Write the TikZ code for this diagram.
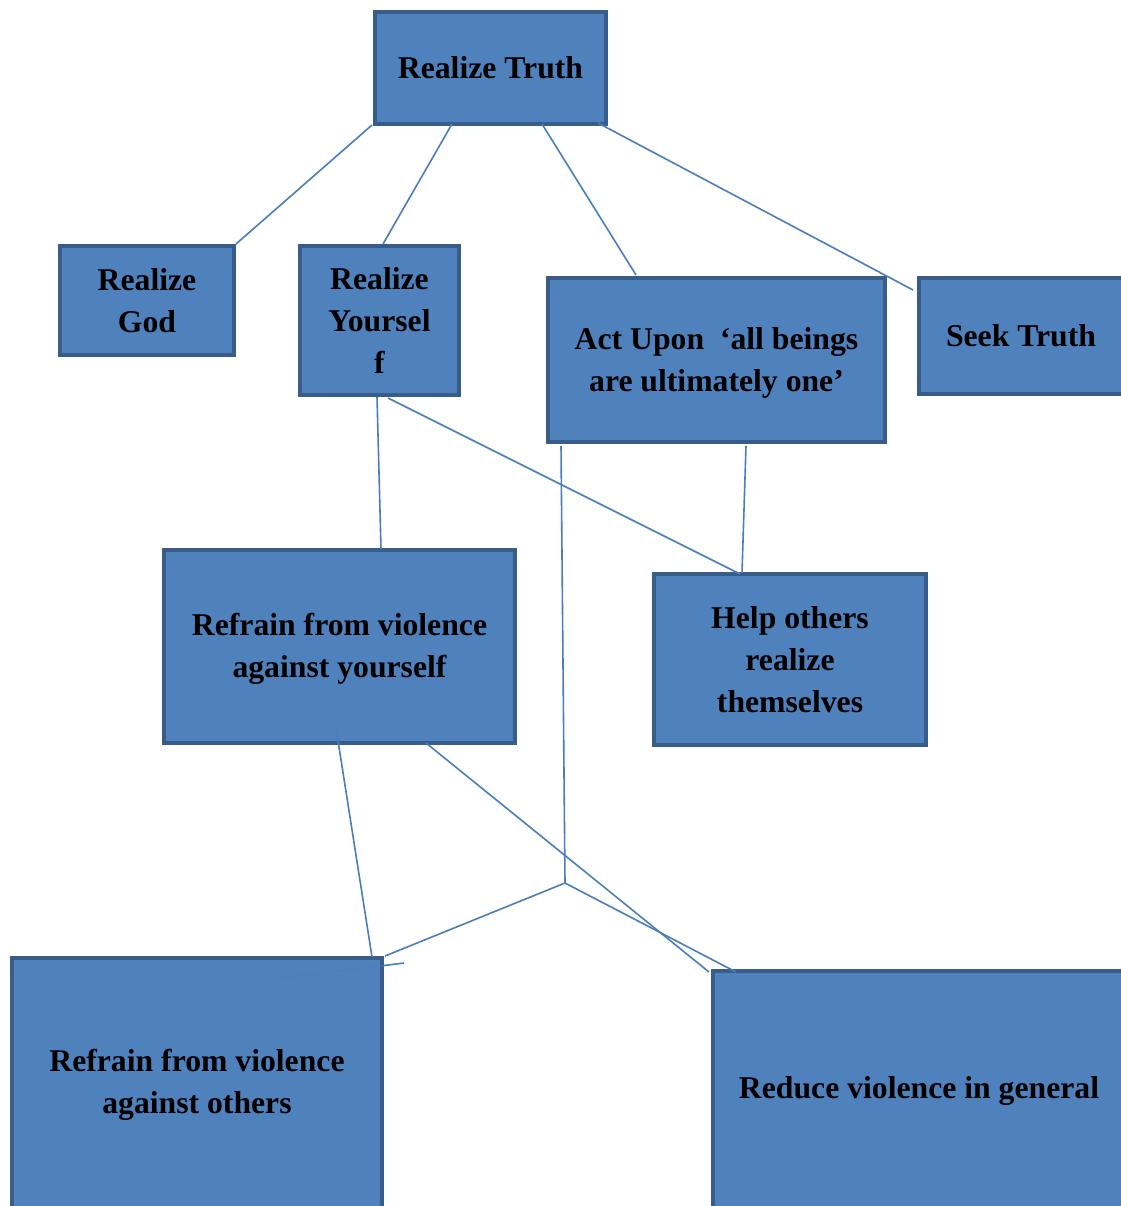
\documentclass[tikz,border=0pt]{standalone}
\usepackage{fontspec}
\setmainfont{Liberation Serif}
\definecolor{boxfill}{HTML}{4F81BD}
\definecolor{boxline}{HTML}{385D8A}
\definecolor{conn}{HTML}{4A7EBB}
\begin{document}
\begin{tikzpicture}[x=1pt,y=-1pt,
  box/.style={draw=boxline, fill=boxfill, line width=4pt, rectangle, inner sep=0pt},
  txt/.style={font=\fontsize{31.7}{42}\selectfont\bfseries, align=center, text=black},
  conline/.style={draw=conn, line width=1.6pt}]
\useasboundingbox (0,0) rectangle (1120,1206);
% boxes
\node[box, txt, minimum width=231pt, minimum height=112pt] (rt) at (490.5,68) {Realize Truth};
\node[box, txt, minimum width=174pt, minimum height=109pt] (god) at (147,300.5) {Realize\\God};
\node[box, txt, minimum width=159pt, minimum height=149pt] (you) at (379.5,320.5) {Realize\\Yoursel\\f};
\node[box, minimum width=337pt, minimum height=164pt] (act) at (716.5,360) {};
\node[txt] (actt) at (716.5,363) {Act Upon\ \ ‘all beings\\are ultimately one’};
\node[box, minimum width=221pt, minimum height=116pt] (seek) at (1029.5,336) {};
\node[txt] (seekt) at (1021,336) {Seek Truth};
\node[box, minimum width=351pt, minimum height=193pt] (rys) at (339.5,646.5) {};
\node[txt] (ryst) at (339.5,648.5) {Refrain from violence\\against yourself};
\node[box, txt, minimum width=272pt, minimum height=171pt] (help) at (790,659.5) {Help others\\realize\\themselves};
\node[box, minimum width=370pt, minimum height=270pt] (ros) at (197,1093) {};
\node[txt] (rost) at (197,1085) {Refrain from violence\\against others};
\node[box, minimum width=427pt, minimum height=270pt] (rvg) at (926.5,1106) {};
\node[txt] (rvgt) at (919,1091) {Reduce violence in general};
% connector end points
\coordinate (rt1) at (372,125);
\coordinate (g1) at (236,244);
\coordinate (rt2) at (452,124);
\coordinate (y1) at (383,244);
\coordinate (rt3) at (542,124);
\coordinate (a1) at (636,275);
\coordinate (rt4) at (598,123);
\coordinate (s1) at (913,290);
\coordinate (y2) at (377,397);
\coordinate (r1) at (381,549);
\coordinate (y3) at (388,398);
\coordinate (h1) at (740,574);
\coordinate (a2) at (746,446);
\coordinate (h2) at (742,573);
\coordinate (a3) at (561,446);
\coordinate (j) at (565,883);
\coordinate (o1) at (385,956);
\coordinate (v1) at (736,972);
\coordinate (r2) at (336,728);
\coordinate (o2) at (372,957);
\coordinate (r3) at (426,743);
\coordinate (v2) at (709,972);
\coordinate (o3) at (404,963);
\coordinate (o4) at (384,965.5);
\coordinate (o5) at (280,978);
% connectors
\draw[conline] (rt1) -- (g1);
\draw[conline] (rt2) -- (y1);
\draw[conline] (rt3) -- (a1);
\draw[conline] (rt4) -- (s1);
\draw[conline] (y2) -- (r1);
\draw[conline] (y3) -- (h1);
\draw[conline] (a2) -- (h2);
\draw[conline] (a3) -- (j);
\draw[conline] (j) -- (o1);
\draw[conline] (j) -- (v1);
\draw[conline] (r2) -- (o2);
\draw[conline] (r3) -- (v2);
\draw[conline] (o3) -- (o4);
\draw[conline, draw opacity=0.35] (o4) -- (o5);
\end{tikzpicture}
\end{document}
